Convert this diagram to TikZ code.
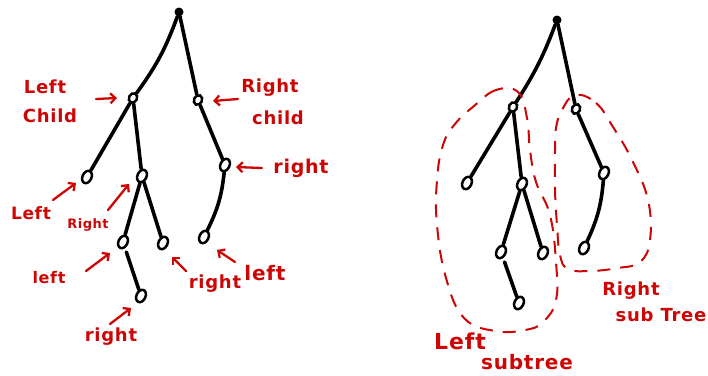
\documentclass[tikz,border=0pt]{standalone}
\usepackage{fontspec}
\newfontfamily\hand[LetterSpace=4]{DejaVu Sans Bold}
\usetikzlibrary{arrows.meta,shapes.geometric}
\definecolor{ink}{RGB}{205,5,5}
\begin{document}
\begin{tikzpicture}[x=1pt,y=-1pt,
  tnode/.style={draw, ellipse, line width=2.5pt, minimum width=9pt, minimum height=13pt, inner sep=0pt, rotate=-25},
  tsmall/.style={tnode, minimum width=8pt, minimum height=10pt},
  rootnode/.style={circle, fill, inner sep=0pt, minimum size=9pt},
  edge/.style={line width=3.6pt, line cap=round},
  lab/.style={text=ink, inner sep=0pt, font=\hand\fontsize{#1}{#1}\selectfont},
  pointer/.style={draw=ink, line width=2.3pt, line cap=round, -{Straight Barb[length=5pt,width=10pt]}},
  region/.style={draw=ink, line width=2pt, dash pattern=on 13pt off 10pt}
]
\useasboundingbox (0,0) rectangle (708,375);

% ---------- left tree ----------
\node[rootnode] (a0) at (179,12) {};
\node[tsmall] (a1) at (133,98) {};
\node[tsmall] (a2) at (198,100) {};
\node[tnode] (a3) at (87,177) {};
\node[tnode] (a4) at (142,176) {};
\node[tnode] (a5) at (225,165) {};
\node[tnode] (a6) at (123,242) {};
\node[tnode] (a7) at (163,243) {};
\node[tnode] (a8) at (204,237) {};
\node[tnode] (a9) at (141,296) {};

\draw[edge] (a0) to[bend left=8] (a1);
\draw[edge] (a0) -- (a2);
\draw[edge] (a1) -- (a3);
\draw[edge] (a1) -- (a4);
\draw[edge] (a2) -- (a5);
\draw[edge] (a4) -- (a6);
\draw[edge] (a4) -- (a7);
\draw[edge] (a5) to[bend left=10] (a8);
\draw[edge, shorten <=4pt] (a6) -- (a9);

% labels
\node[lab=18] (lc1) at (45,87) {Left};
\node[lab=18] (lc2) at (50,116) {Child};
\node[lab=18] (rc1) at (270,88) {Right};
\node[lab=18] (rc2) at (278,118) {child};
\node[lab=19] (lr) at (301,168) {right};
\node[lab=17] (ll) at (31,213) {Left};
\node[lab=13] (lrr) at (88,225) {Right};
\node[lab=16] (lrl) at (49,278) {left};
\node[lab=18] (lrlr) at (111,337) {right};
\node[lab=18] (lrrr) at (215,284) {right};
\node[lab=20] (rrl) at (265,273) {left};

\coordinate (p1s) at (96,99);   \coordinate (p1e) at (117,98);
\coordinate (p2s) at (238,99);  \coordinate (p2e) at (213,101);
\coordinate (p3s) at (262,168); \coordinate (p3e) at (236,167);
\coordinate (p4s) at (53,200);  \coordinate (p4e) at (76,183);
\coordinate (p5s) at (108,210); \coordinate (p5e) at (129,184);
\coordinate (p6s) at (86,271);  \coordinate (p6e) at (110,253);
\coordinate (p7s) at (186,271); \coordinate (p7e) at (172,257);
\coordinate (p8s) at (235,262); \coordinate (p8e) at (217,250);
\coordinate (p9s) at (110,324); \coordinate (p9e) at (131,308);
\foreach \i in {1,...,9} \draw[pointer] (p\i s) -- (p\i e);

% ---------- right tree ----------
\node[rootnode] (b0) at (557,20) {};
\node[tsmall] (b1) at (513,107) {};
\node[tsmall] (b2) at (576,109) {};
\node[tnode] (b3) at (467,183) {};
\node[tnode] (b4) at (522,184) {};
\node[tnode] (b5) at (604,173) {};
\node[tnode] (b6) at (501,252) {};
\node[tnode] (b7) at (543,253) {};
\node[tnode] (b8) at (584,248) {};
\node[tnode] (b9) at (519,303) {};

\draw[edge] (b0) to[bend left=6] (b1);
\draw[edge] (b0) -- (b2);
\draw[edge] (b1) -- (b3);
\draw[edge] (b1) -- (b4);
\draw[edge] (b2) -- (b5);
\draw[edge] (b4) -- (b6);
\draw[edge] (b4) -- (b7);
\draw[edge] (b5) to[bend left=10] (b8);
\draw[edge, shorten <=4pt] (b6) -- (b9);

% subtree outlines
\draw[region] plot[smooth cycle, tension=0.7] coordinates {
  (518,92) (496,90) (474,106) (455,124) (443,145) (437,180) (437,225)
  (446,278) (464,318) (495,331) (525,330) (543,322) (556,300) (556,262)
  (550,215) (536,182) (530,150) (527,118)};
\draw[region] plot[smooth cycle, tension=0.7] coordinates {
  (575,95) (596,103) (613,127) (632,160) (648,200) (650,240) (640,262)
  (618,268) (590,271) (568,269) (560,255) (557,225) (555,190) (555,150)
  (556,128) (562,110)};

\node[lab=22] (ls1) at (460,341) {Left};
\node[lab=20] (ls2) at (527,362) {subtree};
\node[lab=18] (rs1) at (631,291) {Right};
\node[lab=18] (rs2) at (661,315) {sub Tree};
\end{tikzpicture}
\end{document}
